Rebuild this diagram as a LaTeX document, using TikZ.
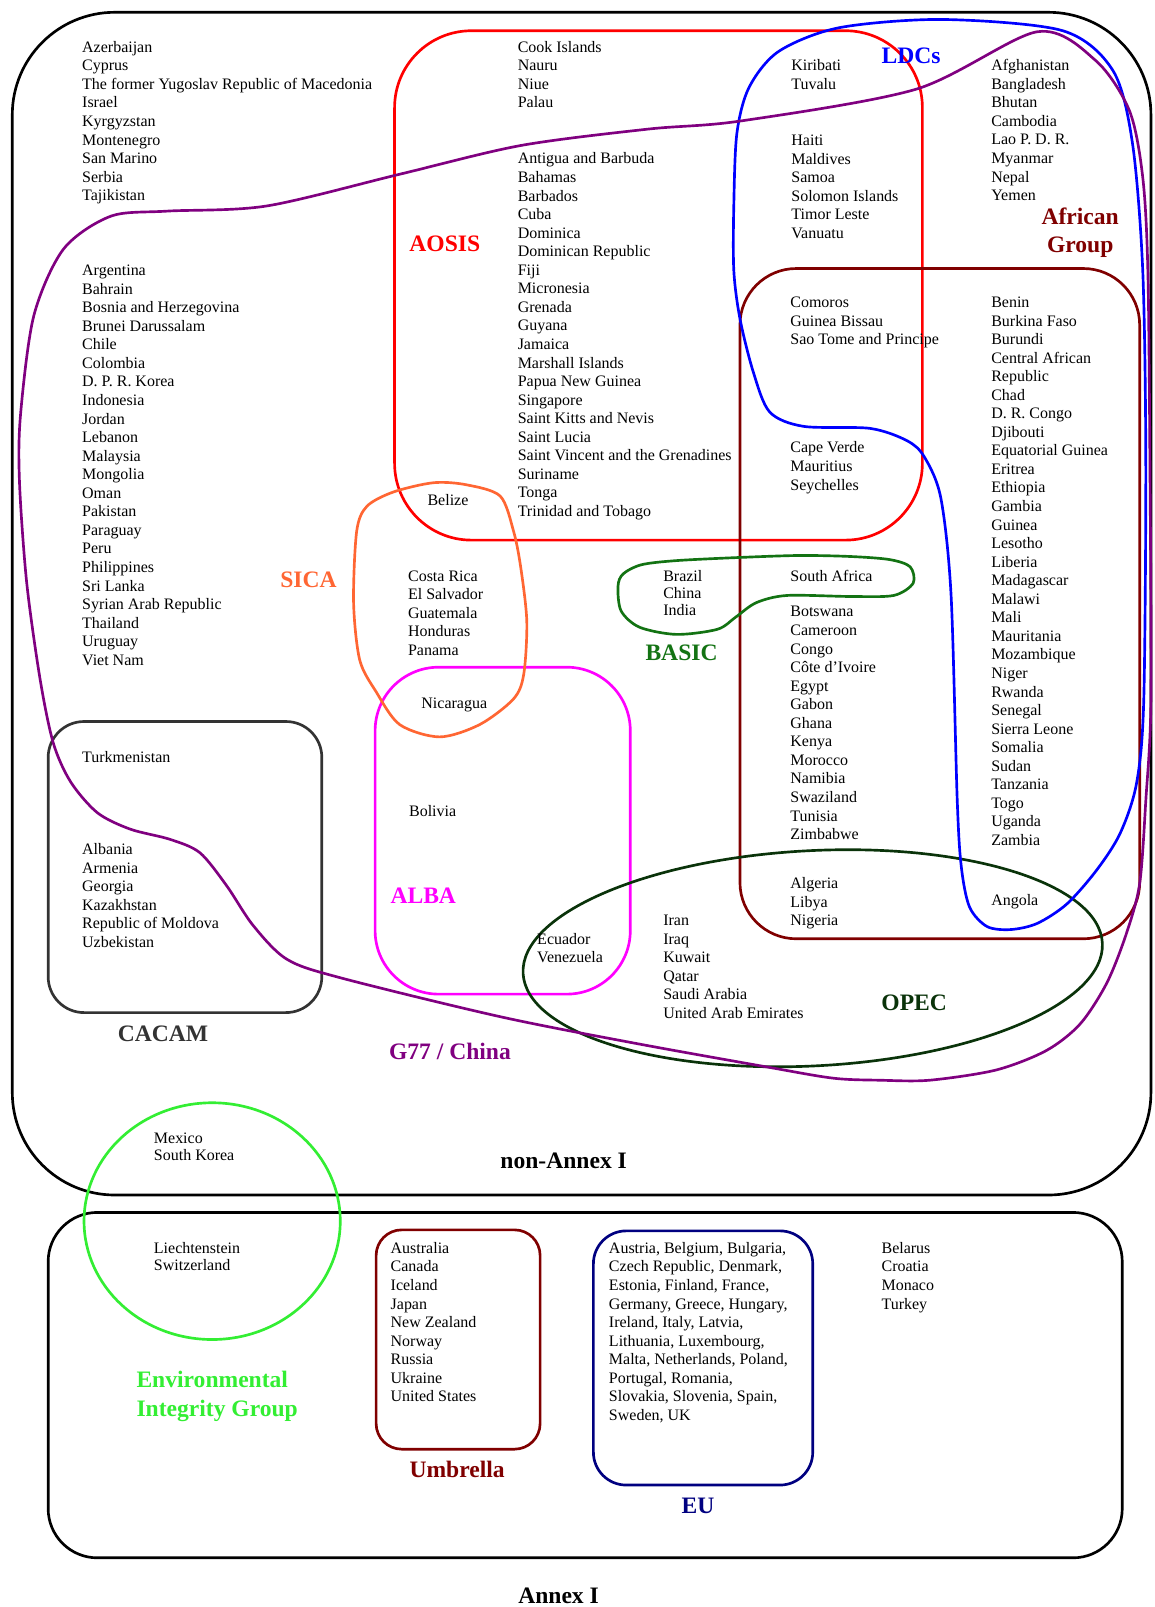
\documentclass[tikz,border=0pt]{standalone}
\usepackage{fontspec}
\setmainfont{Liberation Serif}
\definecolor{aosisc}{HTML}{FF0000}
\definecolor{ldcc}{HTML}{0000FF}
\definecolor{g77c}{HTML}{800080}
\definecolor{afrc}{HTML}{800000}
\definecolor{sicac}{HTML}{FF6633}
\definecolor{albac}{HTML}{FF00FF}
\definecolor{basicc}{HTML}{137313}
\definecolor{opecc}{HTML}{0A330A}
\definecolor{cacamc}{HTML}{333333}
\definecolor{eigc}{HTML}{33EE33}
\definecolor{euc}{HTML}{000080}
\newcommand\ctys[1]{\begin{tabular}[t]{@{}l@{}}#1\end{tabular}}
\newcommand\lstfont{\fontsize{15.6}{18.1}\selectfont}
\newcommand\lblfont{\fontsize{23}{27}\selectfont\bfseries}
\tikzset{
  ctry/.style={anchor=base west, inner sep=0pt, font=\lstfont},
  grp/.style={anchor=base, inner sep=0pt, font=\lblfont},
  outline/.style={line width=2.6pt},
}
\begin{document}
\begin{tikzpicture}[x=1pt,y=-1pt]
\fill[white] (0,0) rectangle (1126,1568);
\useasboundingbox (0,0) rectangle (1126,1568);

% outer boxes
\draw[outline, black, rounded corners=100pt] (12,12) rectangle (1123,1166);
\draw[outline, black, rounded corners=48pt] (47,1183) rectangle (1095,1520);

% groups
\draw[outline, aosisc, rounded corners=75pt] (385,30) rectangle (900,527);
\draw[outline, afrc, rounded corners=55pt] (722,262) rectangle (1112,916);
\draw[outline, albac, rounded corners=62pt] (366,651) rectangle (615,970);
\draw[outline, cacamc, rounded corners=35pt] (47,704) rectangle (314,988);
\draw[outline, afrc, rounded corners=25pt] (367,1200) rectangle (527,1414);
\draw[outline, euc, rounded corners=32pt] (579,1201) rectangle (793,1449);
\draw[outline, eigc] (207,1191.5) ellipse [x radius=125pt, y radius=115.5pt];
\draw[outline, opecc, rotate around={3:(793,935)}] (793,935) ellipse [x radius=283pt, y radius=105pt];

\draw[outline, sicac] plot[smooth cycle] coordinates {(348,518.5) (345,588) (351,644) (367,675) (390,707) (429,719) (468,707) (501,682) (511,658) (514,606) (508,553) (501,518) (488,484) (455,473) (423,471) (384,480) (358,494)};

\draw[outline, basicc] plot[smooth cycle] coordinates {(603,572) (606,596) (624,612) (660,619) (700,614) (718,602) (738,588) (768,581) (830,582) (872,581) (891,569) (888,553) (868,546) (830,543) (780,542) (720,544) (660,547) (626,551) (608,560)};

\draw[outline, ldcc] plot[smooth cycle] coordinates {(716,200) (719,130) (731,85) (760,50) (819,27) (920,19) (1037,30) (1086,69) (1105,140) (1115,264) (1118,450) (1116,683) (1109,764) (1093,813) (1070,849) (1041,882) (1012,901) (986,907) (963,904) (946,885) (938,846) (934,781) (928,581) (918,486) (902,446) (885,430) (849,418) (784,416) (751,402) (735,363) (722,311) (716,264)};

\draw[outline, g77c] plot[smooth cycle] coordinates {(39,662) (26,568) (19,470) (20,405) (33,308) (62,243) (108,211) (163,206) (260,201) (390,170) (508,142) (632,126) (723,118) (894,87) (1012,31) (1069,59) (1102,108) (1115,173) (1120,264) (1122,450) (1123,683) (1118,781) (1112,862) (1099,911) (1080,959) (1054,999) (1021,1025) (972,1044) (907,1054) (859,1054) (813,1052) (748,1041) (620,1018) (488,992) (332,954) (280,936) (247,903) (221,864) (195,832) (166,819) (127,809) (95,793) (69,763) (52,725)};

% country lists
\node[ctry] (t1) at (80,51) {\ctys{Azerbaijan\\Cyprus\\The former Yugoslav Republic of Macedonia\\Israel\\Kyrgyzstan\\Montenegro\\San Marino\\Serbia\\Tajikistan}};
\node[ctry] (t2) at (80,269) {\ctys{Argentina\\Bahrain\\Bosnia and Herzegovina\\Brunei Darussalam\\Chile\\Colombia\\D. P. R. Korea\\Indonesia\\Jordan\\Lebanon\\Malaysia\\Mongolia\\Oman\\Pakistan\\Paraguay\\Peru\\Philippines\\Sri Lanka\\Syrian Arab Republic\\Thailand\\Uruguay\\Viet Nam}};
\node[ctry] (t3) at (505,51) {\ctys{Cook Islands\\Nauru\\Niue\\Palau}};
\node[ctry] (t4) at (505,160) {\ctys{Antigua and Barbuda\\Bahamas\\Barbados\\Cuba\\Dominica\\Dominican Republic\\Fiji\\Micronesia\\Grenada\\Guyana\\Jamaica\\Marshall Islands\\Papua New Guinea\\Singapore\\Saint Kitts and Nevis\\Saint Lucia\\Saint Vincent and the Grenadines\\Suriname\\Tonga\\Trinidad and Tobago}};
\node[ctry] (t5) at (772,69) {\ctys{Kiribati\\Tuvalu}};
\node[ctry] (t6) at (772,142) {\ctys{Haiti\\Maldives\\Samoa\\Solomon Islands\\Timor Leste\\Vanuatu}};
\node[ctry] (t7) at (967,69) {\ctys{Afghanistan\\Bangladesh\\Bhutan\\Cambodia\\Lao P. D. R.\\Myanmar\\Nepal\\Yemen}};
\node[ctry] (t8) at (771,300) {\ctys{Comoros\\Guinea Bissau\\Sao Tome and Principe}};
\node[ctry] (t9) at (771,442) {\ctys{Cape Verde\\Mauritius\\Seychelles}};
\node[ctry] (t10) at (967,300) {\ctys{Benin\\Burkina Faso\\Burundi\\Central African\\Republic\\Chad\\D. R. Congo\\Djibouti\\Equatorial Guinea\\Eritrea\\Ethiopia\\Gambia\\Guinea\\Lesotho\\Liberia\\Madagascar\\Malawi\\Mali\\Mauritania\\Mozambique\\Niger\\Rwanda\\Senegal\\Sierra Leone\\Somalia\\Sudan\\Tanzania\\Togo\\Uganda\\Zambia}};
\node[ctry] (t11) at (771,567) {South Africa};
\node[ctry] (t12) at (771,602) {\ctys{Botswana\\Cameroon\\Congo\\Côte d'Ivoire\\Egypt\\Gabon\\Ghana\\Kenya\\Morocco\\Namibia\\Swaziland\\Tunisia\\Zimbabwe}};
\node[ctry] (t13) at (771,867) {\ctys{Algeria\\Libya\\Nigeria}};
\node[ctry] (t14) at (967,884) {Angola};
\node[ctry, font=\fontsize{15.6}{16.6}\selectfont] (t15) at (647,567) {\ctys{Brazil\\China\\India}};
\node[ctry] (t16) at (417,493) {Belize};
\node[ctry] (t17) at (398,567) {\ctys{Costa Rica\\El Salvador\\Guatemala\\Honduras\\Panama}};
\node[ctry] (t18) at (411,691) {Nicaragua};
\node[ctry] (t19) at (399,797) {Bolivia};
\node[ctry, font=\fontsize{15.6}{17}\selectfont] (t20) at (524,922) {\ctys{Ecuador\\Venezuela}};
\node[ctry] (t21) at (647,903) {\ctys{Iran\\Iraq\\Kuwait\\Qatar\\Saudi Arabia\\United Arab Emirates}};
\node[ctry] (t22) at (80,744) {Turkmenistan};
\node[ctry] (t23) at (80,834) {\ctys{Albania\\Armenia\\Georgia\\Kazakhstan\\Republic of Moldova\\Uzbekistan}};
\node[ctry, font=\fontsize{15.6}{16.5}\selectfont] (t24) at (150,1116) {\ctys{Mexico\\South Korea}};
\node[ctry, font=\fontsize{15.6}{16.5}\selectfont] (t25) at (150,1223) {\ctys{Liechtenstein\\Switzerland}};
\node[ctry] (t26) at (381,1223) {\ctys{Australia\\Canada\\Iceland\\Japan\\New Zealand\\Norway\\Russia\\Ukraine\\United States}};
\node[ctry] (t27) at (594,1223) {\ctys{Austria, Belgium, Bulgaria,\\Czech Republic, Denmark,\\Estonia, Finland, France,\\Germany, Greece, Hungary,\\Ireland, Italy, Latvia,\\Lithuania, Luxembourg,\\Malta, Netherlands, Poland,\\Portugal, Romania,\\Slovakia, Slovenia, Spain,\\Sweden, UK}};
\node[ctry] (t28) at (860,1223) {\ctys{Belarus\\Croatia\\Monaco\\Turkey}};

% group labels
\node[grp, text=aosisc] (l1) at (434,245) {AOSIS};
\node[grp, text=ldcc] (l2) at (889,62) {LDCs};
\node[grp, text=afrc] (l3) at (1054,219) {\begin{tabular}[t]{@{}c@{}}African\\Group\end{tabular}};
\node[grp, text=sicac] (l4) at (301,573) {SICA};
\node[grp, text=basicc] (l5) at (665,644) {BASIC};
\node[grp, text=albac] (l6) at (413,882) {ALBA};
\node[grp, text=opecc] (l7) at (892,986) {OPEC};
\node[grp, text=cacamc] (l8) at (159,1016) {CACAM};
\node[grp, text=g77c] (l9) at (439,1034) {G77 / China};
\node[grp, text=black] (l10) at (550,1140) {non-Annex I};
\node[grp, anchor=base west, text=eigc, font=\fontsize{23}{28}\selectfont\bfseries] (l11) at (133,1354) {\begin{tabular}[t]{@{}l@{}}Environmental\\Integrity Group\end{tabular}};
\node[grp, text=afrc] (l12) at (446,1442) {Umbrella};
\node[grp, text=euc] (l13) at (681,1477) {EU};
\node[grp, text=black] (l14) at (545,1565) {Annex I};
\end{tikzpicture}
\end{document}
